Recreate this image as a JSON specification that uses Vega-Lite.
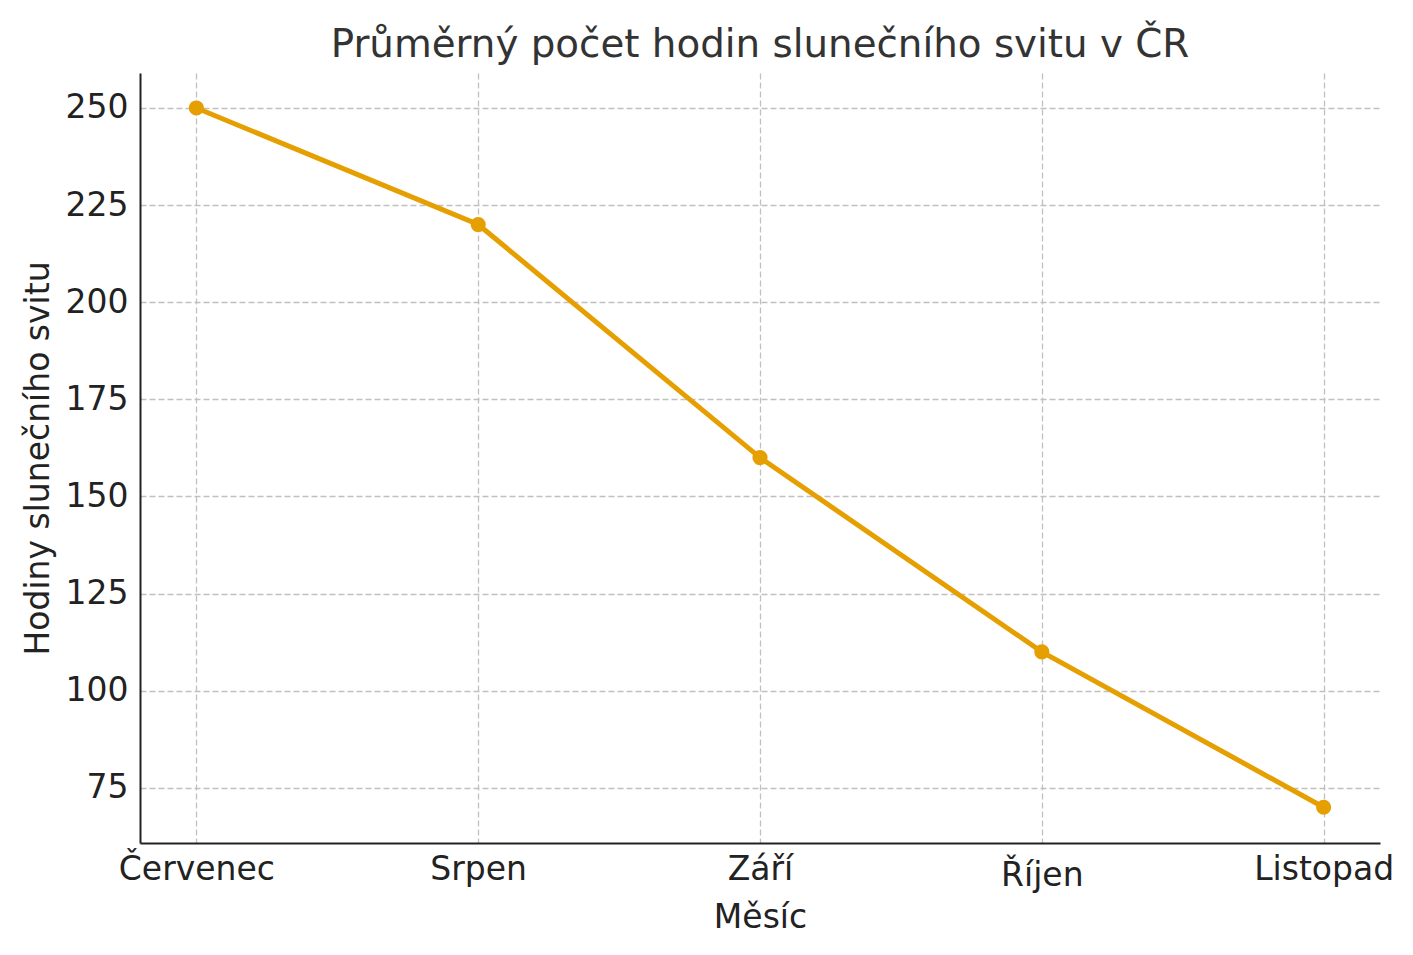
{
  "$schema": "https://vega.github.io/schema/vega-lite/v6.json",
  "autosize": {"type": "none"},
  "padding": {"left": 140, "top": 73, "right": 33, "bottom": 112},
  "width": 1240,
  "height": 770,
  "background": "white",
  "title": {
    "text": "Průměrný počet hodin slunečního svitu v ČR",
    "fontSize": 38.8,
    "font": "DejaVu Sans",
    "fontWeight": "normal",
    "color": "#333333",
    "anchor": "middle",
    "baseline": "alphabetic",
    "offset": -23
  },
  "data": {
    "values": [
      {"mesic": "Červenec", "hodiny": 250},
      {"mesic": "Srpen", "hodiny": 220},
      {"mesic": "Září", "hodiny": 160},
      {"mesic": "Říjen", "hodiny": 110},
      {"mesic": "Listopad", "hodiny": 70}
    ]
  },
  "config": {
    "view": {"stroke": null},
    "axis": {
      "labelFont": "DejaVu Sans",
      "titleFont": "DejaVu Sans",
      "labelFontSize": 33,
      "titleFontSize": 33,
      "titleFontWeight": "normal",
      "labelColor": "#222222",
      "titleColor": "#222222",
      "domainColor": "#222222",
      "domainWidth": 2,
      "tickColor": "#222222",
      "tickSize": 0,
      "tickWidth": 2,
      "gridColor": "#c0c0c0",
      "gridDash": [6, 3],
      "gridWidth": 1.3
    }
  },
  "encoding": {
    "x": {
      "field": "mesic",
      "type": "ordinal",
      "sort": null,
      "scale": {"type": "point", "padding": 0.2},
      "axis": {
        "title": "Měsíc",
        "labelAngle": 0,
        "grid": true,
        "labelPadding": {"condition": {"test": "datum.value === 'Říjen'", "value": 16}, "value": 10},
        "titlePadding": 9,
        "encode": {"ticks": {"update": {"y2": {"value": -9}}}}
      }
    },
    "y": {
      "field": "hodiny",
      "type": "quantitative",
      "scale": {"domain": [60.8, 259], "nice": false, "zero": false},
      "axis": {
        "title": "Hodiny slunečního svitu",
        "values": [75, 100, 125, 150, 175, 200, 225, 250],
        "grid": true,
        "labelPadding": 12,
        "titlePadding": 10,
        "encode": {"ticks": {"update": {"x2": {"value": 9}}}}
      }
    }
  },
  "layer": [
    {"mark": {"type": "line", "color": "#E69F00", "strokeWidth": 5}},
    {"mark": {"type": "point", "filled": true, "opacity": 1, "color": "#E69F00", "size": 230}}
  ]
}
